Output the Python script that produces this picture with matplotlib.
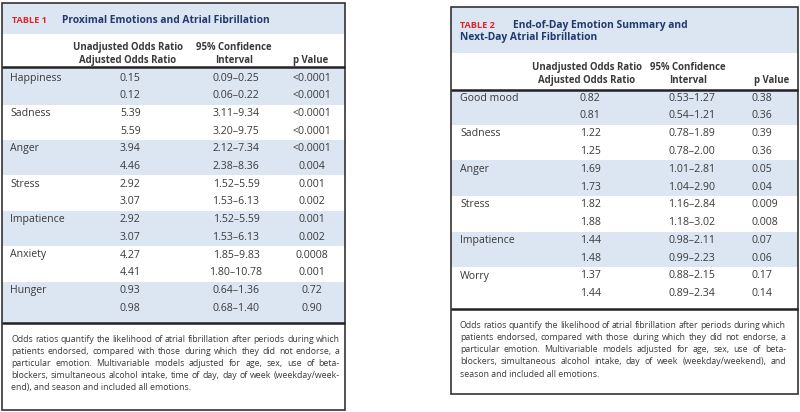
import matplotlib
matplotlib.use("Agg")
import matplotlib.pyplot as plt
from matplotlib.patches import Rectangle

plt.rcParams['font.family'] = ['Open Sans', 'DejaVu Sans']

# Table 1: proximal emotions
t1_emotions = ['Happiness', 'Sadness', 'Anger', 'Stress', 'Impatience', 'Anxiety', 'Hunger']
t1_or_unadj = ['0.15', '5.39', '3.94', '2.92', '2.92', '4.27', '0.93']
t1_or_adj = ['0.12', '5.59', '4.46', '3.07', '3.07', '4.41', '0.98']
t1_ci_unadj = ['0.09–0.25', '3.11–9.34', '2.12–7.34', '1.52–5.59', '1.52–5.59', '1.85–9.83', '0.64–1.36']
t1_ci_adj = ['0.06–0.22', '3.20–9.75', '2.38–8.36', '1.53–6.13', '1.53–6.13', '1.80–10.78', '0.68–1.40']
t1_p_unadj = ['<0.0001', '<0.0001', '<0.0001', '0.001', '0.001', '0.0008', '0.72']
t1_p_adj = ['<0.0001', '<0.0001', '0.004', '0.002', '0.002', '0.001', '0.90']
t1_notes = ['Odds ratios quantify the likelihood of atrial fibrillation after periods during which',
            'patients endorsed, compared with those during which they did not endorse, a',
            'particular emotion. Multivariable models adjusted for age, sex, use of beta-',
            'blockers, simultaneous alcohol intake, time of day, day of week (weekday/week-',
            'end), and season and included all emotions.']

# Table 2: end-of-day summary
t2_emotions = ['Good mood', 'Sadness', 'Anger', 'Stress', 'Impatience', 'Worry']
t2_or_unadj = ['0.82', '1.22', '1.69', '1.82', '1.44', '1.37']
t2_or_adj = ['0.81', '1.25', '1.73', '1.88', '1.48', '1.44']
t2_ci_unadj = ['0.53–1.27', '0.78–1.89', '1.01–2.81', '1.16–2.84', '0.98–2.11', '0.88–2.15']
t2_ci_adj = ['0.54–1.21', '0.78–2.00', '1.04–2.90', '1.18–3.02', '0.99–2.23', '0.89–2.34']
t2_p_unadj = ['0.38', '0.39', '0.05', '0.009', '0.07', '0.17']
t2_p_adj = ['0.36', '0.36', '0.04', '0.008', '0.06', '0.14']
t2_notes = ['Odds ratios quantify the likelihood of atrial fibrillation after periods during which',
            'patients endorsed, compared with those during which they did not endorse, a',
            'particular emotion. Multivariable models adjusted for age, sex, use of beta-',
            'blockers, simultaneous alcohol intake, day of week (weekday/weekend), and',
            'season and included all emotions.']

BAND = '#dce6f2'
TXT = '#3a3a3a'
NAVY = '#1f3b70'
RED = '#e0242a'
RULE = '#222222'

fig = plt.figure(figsize=(8, 4.12), dpi=100)
ax = fig.add_axes([0, 0, 1, 1])
ax.set_xlim(0, 800)
ax.set_ylim(412, 0)
ax.axis('off')
fig.canvas.draw()
renderer = fig.canvas.get_renderer()


def justify(lines, x0, x1, y0, dy, size):
    for k, line in enumerate(lines):
        y = y0 + k * dy
        if k == len(lines) - 1:
            ax.text(x0, y, line, fontsize=size, color=TXT, va='center')
            continue
        words = line.split(' ')
        txts = [ax.text(0, y, w, fontsize=size, color=TXT, va='center') for w in words]
        widths = [t.get_window_extent(renderer).width for t in txts]
        gap = (x1 - x0 - sum(widths)) / (len(words) - 1)
        x = x0
        for t, w in zip(txts, widths):
            t.set_x(x)
            x += w + gap


def draw_table(lay, title, emotions, or_u, or_a, ci_u, ci_a, p_u, p_a, notes):
    bx0, by0, bx1, by1 = lay['box']
    ax.add_patch(Rectangle((bx0, by0), bx1 - bx0, lay['band_bot'] - by0, color=BAND, lw=0))
    # title
    ax.text(lay['tx'][0], lay['ty'][0], title[0], fontsize=6.6, fontweight='bold', color=RED, va='center')
    for k, line in enumerate(title[1:]):
        ax.text(lay['tx'][k + 1], lay['ty'][k], line, fontsize=7.4, fontweight='bold', color=NAVY, va='center')
    # header
    hy0, hy1 = lay['head_y']
    hs = 6.9
    ax.text(lay['c_or'], hy0, 'Unadjusted Odds Ratio', fontsize=hs, fontweight='bold', color=TXT, ha='center', va='center')
    ax.text(lay['c_or'], hy1, 'Adjusted Odds Ratio', fontsize=hs, fontweight='bold', color=TXT, ha='center', va='center')
    ax.text(lay['c_ci'], hy0, '95% Confidence', fontsize=hs, fontweight='bold', color=TXT, ha='center', va='center')
    ax.text(lay['c_ci'], hy1, 'Interval', fontsize=hs, fontweight='bold', color=TXT, ha='center', va='center')
    ax.text(lay['c_p'], hy1, 'p Value', fontsize=hs, fontweight='bold', color=TXT, ha='center', va='center')
    # rows
    r0, rh = lay['row0'], lay['row_h']
    rule1, rule2 = lay['rules']
    n = len(emotions)
    bs = 7.6
    for g in range(n):
        ya = r0 + 2 * g * rh
        yb = ya + rh
        if g % 2 == 0:
            top = rule1 if g == 0 else ya - rh / 2
            bot = rule2 if g == n - 1 else yb + rh / 2
            ax.add_patch(Rectangle((bx0, top), bx1 - bx0, bot - top, color=BAND, lw=0))
        ax.text(lay['x_lab'], ya, emotions[g], fontsize=bs, color=TXT, va='center')
        for y, o, c, p in ((ya, or_u[g], ci_u[g], p_u[g]), (yb, or_a[g], ci_a[g], p_a[g])):
            ax.text(lay['x_or'], y, o, fontsize=bs, color=TXT, va='center')
            ax.text(lay['x_ci'], y, c, fontsize=bs, color=TXT, va='center', ha='center')
            ax.text(lay['x_p'], y, p, fontsize=bs, color=TXT, va='center', ha=lay['p_ha'])
    ax.plot([bx0, bx1], [rule1, rule1], color=RULE, lw=1.8, solid_capstyle='butt')
    ax.plot([bx0, bx1], [rule2, rule2], color=RULE, lw=1.8, solid_capstyle='butt')
    ax.add_patch(Rectangle((bx0, by0), bx1 - bx0, by1 - by0, fill=False, ec='#333333', lw=1.2))
    justify(notes, lay['note_x'][0], lay['note_x'][1], lay['note_y'], lay['note_dy'], 6.3)


lay1 = dict(box=(2, 3, 345, 410), band_bot=34, tx=(12, 62), ty=(20,), head_y=(47, 60),
            c_or=128, c_ci=234, c_p=311, row0=78, row_h=17.7, rules=(67, 322.7),
            x_lab=10, x_or=120, x_ci=236, x_p=312, p_ha='center',
            note_x=(11, 340), note_y=339, note_dy=12.2)
lay2 = dict(box=(451, 7, 798, 394), band_bot=53, tx=(460, 513, 460), ty=(25, 37), head_y=(67, 80),
            c_or=587, c_ci=688, c_p=772, row0=98, row_h=17.8, rules=(90, 309),
            x_lab=460, x_or=580, x_ci=692, x_p=752, p_ha='left',
            note_x=(460, 786), note_y=325, note_dy=12.3)

draw_table(lay1, ['TABLE 1', 'Proximal Emotions and Atrial Fibrillation'],
           t1_emotions, t1_or_unadj, t1_or_adj, t1_ci_unadj, t1_ci_adj, t1_p_unadj, t1_p_adj, t1_notes)
draw_table(lay2, ['TABLE 2', 'End-of-Day Emotion Summary and', 'Next-Day Atrial Fibrillation'],
           t2_emotions, t2_or_unadj, t2_or_adj, t2_ci_unadj, t2_ci_adj, t2_p_unadj, t2_p_adj, t2_notes)

fig.savefig('out.png', dpi=100, facecolor='white')
